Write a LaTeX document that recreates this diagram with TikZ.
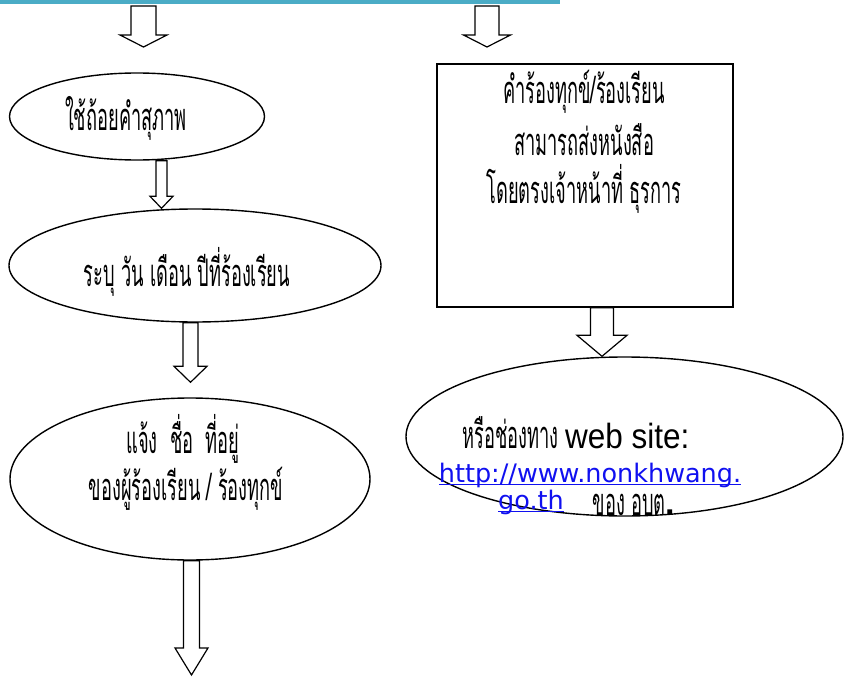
\documentclass[tikz,border=0pt]{standalone}
\usepackage{fontspec}
\usepackage{calc}
\usetikzlibrary{shapes.geometric,calc}
\newfontfamily\thaifont[Script=Thai,FakeStretch=0.48]{Loma}
\newfontfamily\webfont{DejaVu Sans}
\newfontfamily\arialfont[FakeStretch=0.9]{Liberation Sans}
\definecolor{bandcyan}{HTML}{4BACC6}
\definecolor{linkblue}{HTML}{1010F0}

\tikzset{
  bubble/.style={draw, line width=1.4pt, ellipse, inner sep=0pt},
  thaitext/.style={anchor=base, inner sep=0pt, font=\thaifont\fontsize{38}{42}\selectfont},
  linktext/.style={anchor=base, inner sep=0pt, text=linkblue, font=\webfont\fontsize{25.5}{30}\selectfont},
  hollow/.style={draw, fill=white, line width=1.2pt, line join=miter}
}

% block arrow: from, to, x, shaft half width, head half width, head length
\newcommand{\hollowarrow}[6]{%
  \draw[hollow] let \p1=(#1), \p2=(#2) in
    (#3pt-#4pt,\y1) -- (#3pt-#4pt,\y2+#6pt) -- (#3pt-#5pt,\y2+#6pt) -- (#3pt,\y2)
    -- (#3pt+#5pt,\y2+#6pt) -- (#3pt+#4pt,\y2+#6pt) -- (#3pt+#4pt,\y1) -- cycle;
}
% underline for the link
\newcommand{\linkline}[1]{\rlap{\rule[-3pt]{\widthof{#1}}{1.2pt}}#1}

\begin{document}
\begin{tikzpicture}[x=1pt,y=-1pt]
  \useasboundingbox (0,0) rectangle (844,677);

  % band at the top
  \draw[bandcyan, line width=4pt] (0,2) -- (560,2);

  % left column
  \node[bubble, minimum width=255pt, minimum height=87pt] (e1) at (137,116.5) {};
  \node[bubble, minimum width=372pt, minimum height=113pt] (e2) at (195,265.5) {};
  \node[bubble, minimum width=360pt, minimum height=162pt] (e3) at (190,479) {};
  \node[thaitext] (t1) at (126,131) {ใช้ถ้อยคำสุภาพ};
  \node[thaitext] (t2) at (187,286) {ระบุ วัน เดือน ปีที่ร้องเรียน};
  \node[thaitext] (t3) at (183,453) {แจ้ง\ \ ชื่อ\ \ ที่อยู่};
  \node[thaitext] (t4) at (186,500) {ของผู้ร้องเรียน / ร้องทุกข์};

  % right column
  \node[draw, line width=1.4pt, minimum width=296pt, minimum height=243pt] (box) at (585,185.5) {};
  \foreach \i/\y/\txt in {1/103/{คำร้องทุกข์/ร้องเรียน}, 2/155/{สามารถส่งหนังสือ}, 3/203/{โดยตรงเจ้าหน้าที่ ธุรการ}} {
    \node[thaitext] (b\i) at (584,\y) {\txt};
  }
  \node[bubble, minimum width=437pt, minimum height=159pt] (e4) at (624.5,436.5) {};
  \node[thaitext] (w1) at (576,448) {หรือช่องทาง {\arialfont\fontsize{35}{38}\selectfont web site:}};
  \node[linktext] (w2) at (590,482) {\linkline{http://www.nonkhwang.}};
  \node[linktext] (w3) at (531,509) {\linkline{go.th}};
  \node[thaitext] (w4) at (634,515) {ของ อบต{\arialfont\bfseries .}};

  % free ends
  \coordinate (top1) at (143.5,6);
  \coordinate (end1) at (143.5,47);
  \coordinate (top2) at (487,6);
  \coordinate (end2) at (487,47);
  \coordinate (gap3) at ([yshift=15pt]e3.north);
  \coordinate (end5) at (191.5,675);

  % arrows
  \hollowarrow{top1}{end1}{143.5}{12.5}{23.5}{12}
  \hollowarrow{top2}{end2}{487}{12}{23.5}{12}
  \hollowarrow{e1.south}{e2.north}{161.5}{5.5}{11.5}{12}
  \hollowarrow{e2.south}{gap3}{190.5}{7.5}{16.5}{16}
  \hollowarrow{e3.south}{end5}{191.5}{8}{16.5}{27}
  \hollowarrow{box.south}{e4.north}{602}{11.5}{25}{21}
\end{tikzpicture}
\end{document}
